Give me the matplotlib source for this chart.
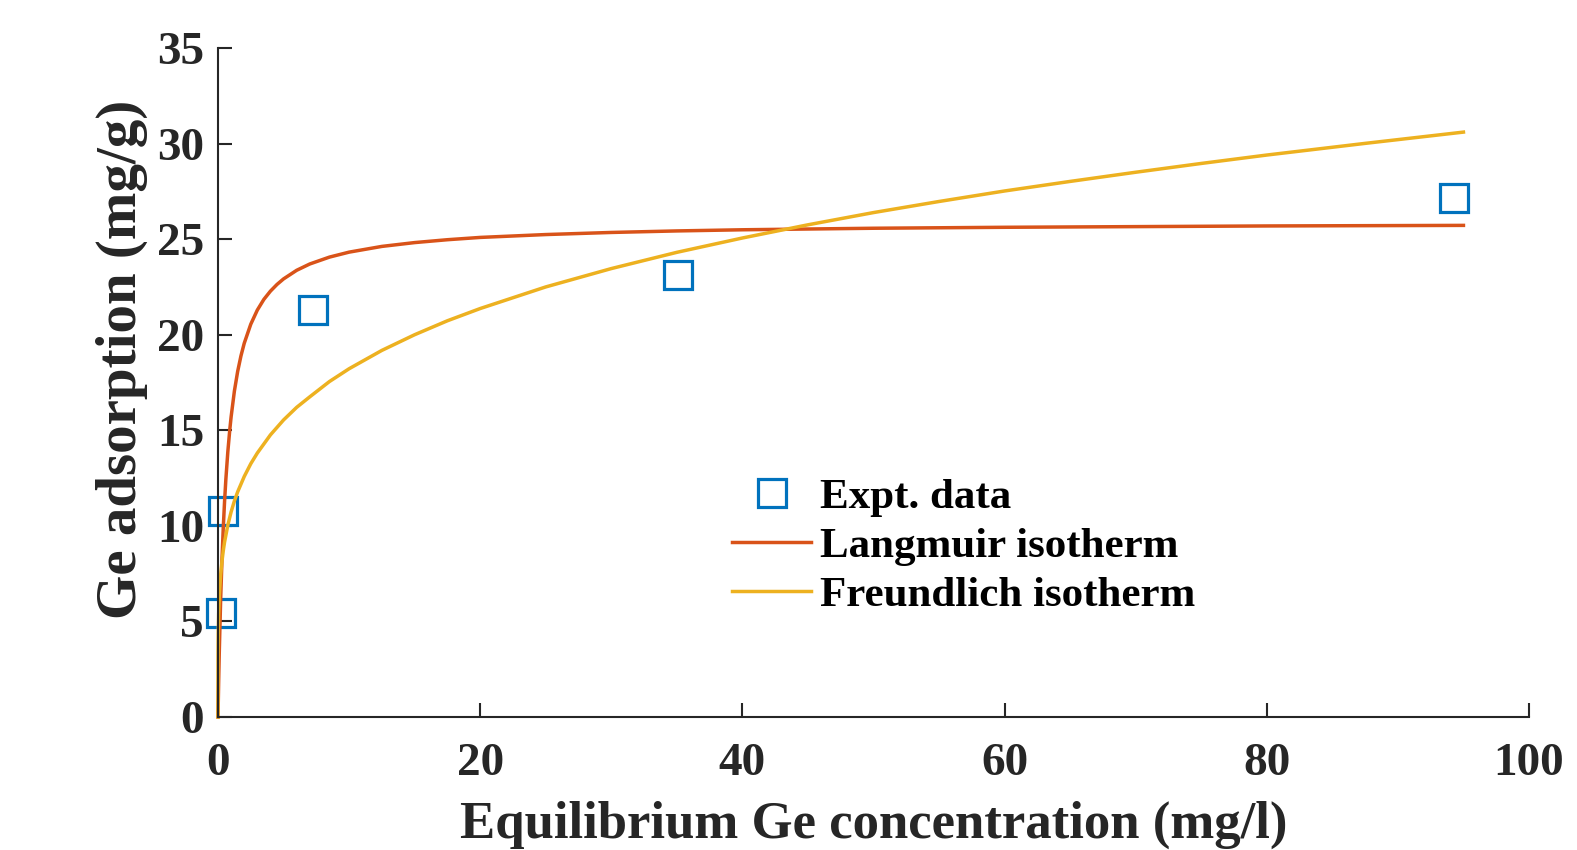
import matplotlib
matplotlib.use("Agg")
import matplotlib.pyplot as plt

# Experimental data
expt_c = [0.23, 0.40, 7.27, 35.1, 94.3]
expt_q = [5.43, 10.78, 21.3, 23.1, 27.17]

# Langmuir isotherm curve
lang_c = [0, 0.05, 0.1, 0.2, 0.3, 0.4, 0.5, 0.6, 0.75, 0.9, 1, 1.25, 1.5, 1.75, 2, 2.5, 3, 3.5, 4,
          4.5, 5, 6, 7, 8.5, 10, 12.5, 15, 17.5, 20, 25, 30, 35, 40, 50, 60, 80, 95]
lang_q = [0, 1.85, 3.46, 6.10, 8.18, 9.87, 11.27, 12.44, 13.88, 15.04, 15.70, 17.05, 18.08, 18.89,
          19.55, 20.55, 21.29, 21.85, 22.28, 22.63, 22.92, 23.37, 23.70, 24.06, 24.32, 24.62, 24.82,
          24.97, 25.09, 25.24, 25.35, 25.43, 25.49, 25.57, 25.62, 25.69, 25.72]

# Freundlich isotherm curve
freu_c = [0, 0.001, 0.002, 0.005, 0.01, 0.02, 0.05, 0.1, 0.2, 0.3, 0.4, 0.5, 0.75, 1, 1.25, 1.5, 2,
          2.5, 3, 4, 5, 6, 7, 8.5, 10, 12.5, 15, 17.5, 20, 25, 30, 35, 40, 45, 50, 55, 60, 65, 70,
          75, 80, 87.5, 95]
freu_q = [0, 2.19, 2.57, 3.17, 3.72, 4.36, 5.39, 6.32, 7.41, 8.13, 8.69, 9.15, 10.04, 10.73, 11.30,
          11.78, 12.58, 13.25, 13.81, 14.76, 15.54, 16.20, 16.75, 17.55, 18.22, 19.18, 20.0, 20.73,
          21.37, 22.50, 23.46, 24.31, 25.06, 25.75, 26.39, 26.97, 27.52, 28.02, 28.5, 28.96, 29.4,
          30.01, 30.6]

x_ticks = [0, 20, 40, 60, 80, 100]
y_ticks = [0, 5, 10, 15, 20, 25, 30, 35]

plt.rcParams['font.family'] = ['Liberation Serif', 'DejaVu Serif']
plt.rcParams['font.weight'] = 'bold'

fig = plt.figure(figsize=(15.77, 8.5), dpi=100)
ax = fig.add_axes([218/1577, 1-717/850, (1529-218)/1577, (717-48)/850])

txt = '#262626'
ax.plot(expt_c, expt_q, linestyle='none', marker='s', markersize=19.5, markerfacecolor='none',
        markeredgecolor='#0072BD', markeredgewidth=2.3, clip_on=False, label='Expt. data')
ax.plot(lang_c, lang_q, color='#D95319', lw=2.5, clip_on=False, label='Langmuir isotherm')
ax.plot(freu_c, freu_q, color='#EDB120', lw=2.5, clip_on=False, label='Freundlich isotherm')

ax.set_xlim(0, 100)
ax.set_ylim(0, 35)
ax.set_xticks(x_ticks)
ax.set_yticks(y_ticks)
for s in ['top', 'right']:
    ax.spines[s].set_visible(False)
for s in ['left', 'bottom']:
    ax.spines[s].set_linewidth(1.5)
    ax.spines[s].set_color(txt)
ax.tick_params(direction='in', length=10, width=1.5, colors=txt, labelsize=34)
ax.tick_params(axis='y', pad=10)
ax.tick_params(axis='x', pad=19)

ax.set_xlabel('Equilibrium Ge concentration (mg/l)', fontsize=38, fontweight='bold', color=txt,
              labelpad=11)
ax.set_ylabel('Ge adsorption (mg/g)', fontsize=41, fontweight='bold', color=txt)
ax.yaxis.set_label_coords(-0.0534, 0.535)

leg = ax.legend(loc='upper left', bbox_to_anchor=(0.392, 0.357), frameon=False, fontsize=31,
                handlelength=1.84, handletextpad=0.2, labelspacing=0.23, borderaxespad=0,
                borderpad=0)
for t in leg.get_texts():
    t.set_color('black')

fig.savefig('out.png', dpi=100)
